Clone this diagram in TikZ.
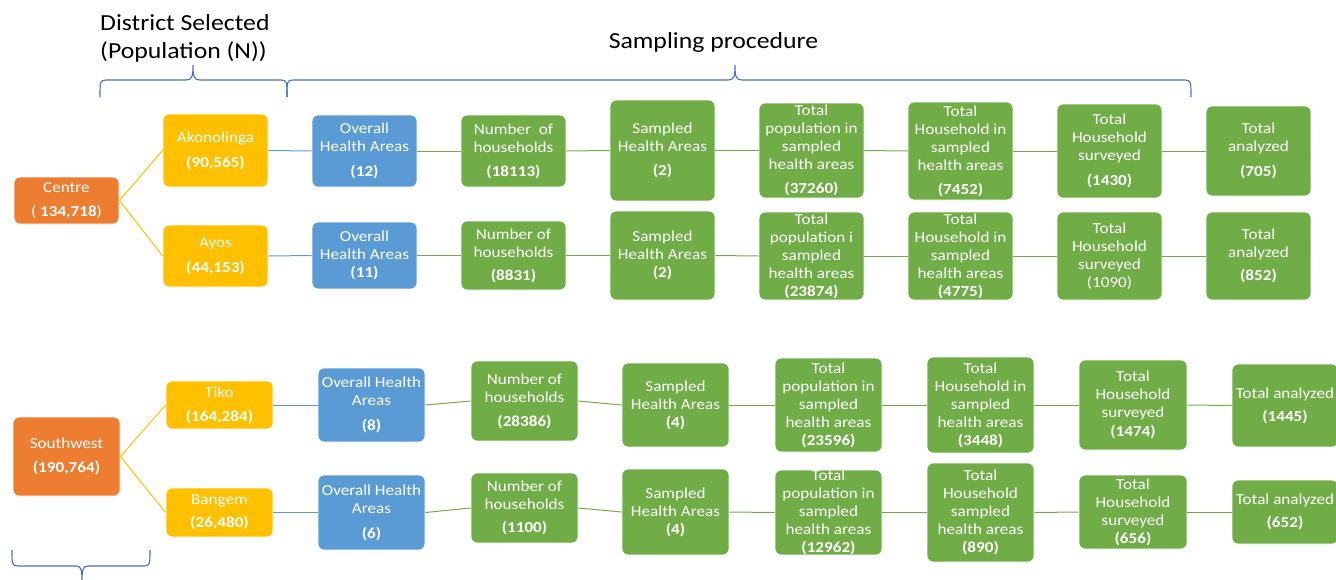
\documentclass[tikz,border=0pt]{standalone}
\usepackage{fontspec}
\setmainfont{Carlito}[FakeStretch=1.12]
\definecolor{corange}{HTML}{ED7D31}
\definecolor{cgold}{HTML}{FFC000}
\definecolor{cblue}{HTML}{5B9BD5}
\definecolor{cgreen}{HTML}{70AD47}
\definecolor{cbrace}{HTML}{4472C4}
\tikzset{
  bx/.style={draw=white, line width=0.8pt, rounded corners=6pt, inner sep=0pt,
    align=center, text=white, font=\fontsize{15.3}{18}\selectfont},
  obox/.style={bx, fill=corange},
  ybox/.style={bx, fill=cgold},
  bbox/.style={bx, fill=cblue},
  gbox/.style={bx, fill=cgreen},
  yline/.style={draw=cgold, line width=1pt},
  bline/.style={draw=cblue, line width=1pt},
  gline/.style={draw=cgreen, line width=1pt},
  brc/.style={draw=cbrace, line width=1.1pt},
  ttl/.style={font=\fontsize{23}{28}\selectfont, text=black, inner sep=0pt}
}
\begin{document}
\begin{tikzpicture}[x=1pt,y=-1pt]
\useasboundingbox (0,0) rectangle (1336,579);
% titles
\node[ttl, anchor=base west] (t1) at (100,30) {District Selected};
\node[ttl, anchor=base west] (t2) at (100,58) {(Population (N))};
\node[ttl, anchor=base] (t3) at (713.5,48) {Sampling procedure};
% braces
\draw[brc] (100,97) .. controls (100,82) and (100,80) .. (106,80) -- (186,80)
  .. controls (192,80) and (193,77) .. (193,65)
  .. controls (193,77) and (194,80) .. (200,80) -- (281,80)
  .. controls (287,80) and (287,82) .. (287,97);
\draw[brc] (287,97) .. controls (287,82) and (287,80) .. (293,80) -- (728,80)
  .. controls (734,80) and (735,77) .. (735,65)
  .. controls (735,77) and (736,80) .. (742,80) -- (1185,80)
  .. controls (1191,80) and (1191,82) .. (1191,97);
\draw[brc] (12,550) .. controls (12,564) and (12,566) .. (18,566) -- (76,566)
  .. controls (81,566) and (82,569) .. (82,582)
  .. controls (82,569) and (83,566) .. (88,566) -- (144,566)
  .. controls (150,566) and (150,564) .. (150,550);
% ---------- Centre ----------
\node[obox, minimum width=105pt, minimum height=47pt] (ce) at (66.5,200.5) {Centre\\[6pt]( \textbf{134,718})};
\node[ybox, minimum width=105pt, minimum height=73pt] (ak) at (215.5,150.5) {Akonolinga\\[7pt]\textbf{(90,565)}};
\node[ybox, minimum width=105pt, minimum height=62pt] (ay) at (215.5,256) {Ayos\\[7pt]\textbf{(44,153)}};
\node[bbox, minimum width=105pt, minimum height=72pt] (oa1) at (364.5,151) {Overall\\Health Areas\\[7pt]\textbf{(12)}};
\node[bbox, minimum width=105pt, minimum height=67pt] (oa2) at (364.5,255.5) {Overall\\Health Areas\\\textbf{(11)}};
\node[gbox, minimum width=105pt, minimum height=72pt] (nh1) at (513.5,151) {Number~~of\\households\\[6pt]\textbf{(18113)}};
\node[gbox, minimum width=105pt, minimum height=69pt] (nh2) at (513.5,255.5) {Number of\\households\\[5pt]\textbf{(8831)}};
\node[gbox, minimum width=105pt, minimum height=101pt] (sh1) at (662.5,150.5) {Sampled\\Health Areas\\[6pt]\textbf{(2)}};
\node[gbox, minimum width=105pt, minimum height=89pt] (sh2) at (662.5,255.5) {Sampled\\Health Areas\\\textbf{(2)}};
\node[gbox, minimum width=105pt, minimum height=95pt] (tp1) at (811.5,150.5) {Total\\population in\\sampled\\health areas\\[6pt]\textbf{(37260)}};
\node[gbox, minimum width=105pt, minimum height=88pt] (tp2) at (811.5,256) {Total\\population i\\sampled\\health areas\\\textbf{(23874)}};
\node[gbox, minimum width=105pt, minimum height=98pt] (th1) at (960.5,151) {Total\\Household in\\sampled\\health areas\\[6pt]\textbf{(7452)}};
\node[gbox, minimum width=105pt, minimum height=88pt] (th2) at (960.5,256) {Total\\Household in\\sampled\\health areas\\\textbf{(4775)}};
\node[gbox, minimum width=105pt, minimum height=94pt] (sv1) at (1109.5,151) {Total\\Household\\surveyed\\[7pt]\textbf{(1430)}};
\node[gbox, minimum width=105pt, minimum height=88pt] (sv2) at (1109.5,256) {Total\\Household\\surveyed\\(1090)};
\node[gbox, minimum width=105pt, minimum height=90pt] (an1) at (1258.5,151) {Total\\analyzed\\[7pt]\textbf{(705)}};
\node[gbox, minimum width=105pt, minimum height=88pt] (an2) at (1258.5,256) {Total\\analyzed\\[5pt]\textbf{(852)}};
% ---------- Southwest ----------
\node[obox, minimum width=107pt, minimum height=79pt] (sw) at (66.5,456.5) {Southwest\\[6pt]\textbf{(190,764)}};
\node[ybox, minimum width=107pt, minimum height=48pt] (ti) at (219.5,405) {Tiko\\[6pt]\textbf{(164,284)}};
\node[ybox, minimum width=107pt, minimum height=49pt] (ba) at (219.5,512.5) {Bangem\\[5pt]\textbf{(26,480)}};
\node[bbox, minimum width=107pt, minimum height=74pt] (oa3) at (371.5,405) {Overall Health\\Areas\\[7pt]\textbf{(8)}};
\node[bbox, minimum width=107pt, minimum height=75pt] (oa4) at (371.5,512.5) {Overall Health\\Areas\\[7pt]\textbf{(6)}};
\node[gbox, minimum width=107pt, minimum height=80pt] (nh3) at (524.5,401) {Number of\\households\\[6pt]\textbf{(28386)}};
\node[gbox, minimum width=107pt, minimum height=70pt] (nh4) at (524.5,508) {Number of\\households\\[5pt]\textbf{(1100)}};
\node[gbox, minimum width=107pt, minimum height=84pt] (sh3) at (675.5,405) {Sampled\\Health Areas\\\textbf{(4)}};
\node[gbox, minimum width=107pt, minimum height=86pt] (sh4) at (675.5,512) {Sampled\\Health Areas\\\textbf{(4)}};
\node[gbox, minimum width=107pt, minimum height=94pt] (tp3) at (828.5,405) {Total\\population in\\sampled\\health areas\\\textbf{(23596)}};
\node[gbox, minimum width=107pt, minimum height=81pt] (tp4) at (828.5,512.5) {Total\\population in\\sampled\\health areas\\\textbf{(12962)}};
\node[gbox, minimum width=107pt, minimum height=96pt] (th3) at (980.5,405) {Total\\Household in\\sampled\\health areas\\\textbf{(3448)}};
\node[gbox, minimum width=107pt, minimum height=99pt] (th4) at (980.5,512.5) {Total\\Household\\sampled\\health areas\\\textbf{(890)}};
\node[gbox, minimum width=108pt, minimum height=90pt] (sv3) at (1133,405) {Total\\Household\\surveyed\\[1pt]\textbf{(1474)}};
\node[gbox, minimum width=108pt, minimum height=74pt] (sv4) at (1133,512) {Total\\Household\\surveyed\\\textbf{(656)}};
\node[gbox, minimum width=106pt, minimum height=83pt] (an3) at (1285,405.5) {Total analyzed\\[5pt]\textbf{(1445)}};
\node[gbox, minimum width=106pt, minimum height=64pt] (an4) at (1285,512) {Total analyzed\\[5pt]\textbf{(652)}};
% ---------- connectors ----------
\draw[yline] (ce.east) -- (ak.west);
\draw[yline] (ce.east) -- (ay.west);
\draw[yline] (sw.east) -- (ti.west);
\draw[yline] (sw.east) -- (ba.west);
\draw[bline] (ak.east) -- (oa1.west);
\draw[bline] (ay.east) -- (oa2.west);
\draw[bline] (ti.east) -- (oa3.west);
\draw[bline] (ba.east) -- (oa4.west);
\foreach \r in {1,2,3,4}{
  \draw[gline] (oa\r.east) -- (nh\r.west);
  \draw[gline] (nh\r.east) -- (sh\r.west);
  \draw[gline] (sh\r.east) -- (tp\r.west);
  \draw[gline] (tp\r.east) -- (th\r.west);
  \draw[gline] (th\r.east) -- (sv\r.west);
  \draw[gline] (sv\r.east) -- (an\r.west);
}
\end{tikzpicture}
\end{document}
